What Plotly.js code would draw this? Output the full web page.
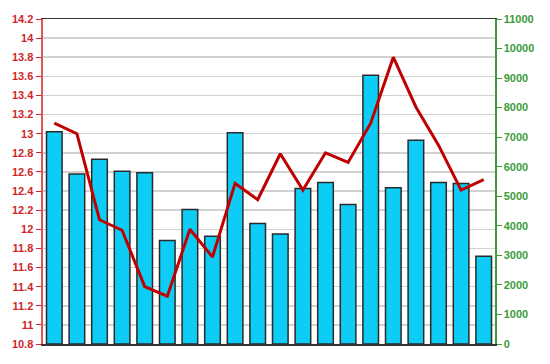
<!DOCTYPE html>
<html><head><meta charset="utf-8">
<script src="https://cdn.plot.ly/plotly-3.0.1.min.js"></script>
<style>html,body{margin:0;padding:0;background:#fff}#c{width:550px;height:364px}</style>
</head><body><div id="c"></div>
<script>
const categories = [1,2,3,4,5,6,7,8,9,10,11,12,13,14,15,16,17,18,19,20];
const barValues = [7180,5750,6250,5850,5800,3500,4550,3650,7150,4080,3720,5260,5470,4720,9100,5290,6900,5470,5430,2970];
const lineValues = [13.11,13.0,12.10,11.99,11.40,11.30,12.0,11.71,12.48,12.31,12.79,12.41,12.80,12.70,13.11,13.80,13.28,12.88,12.41,12.52];
const leftTicks = [10.8,11,11.2,11.4,11.6,11.8,12,12.2,12.4,12.6,12.8,13,13.2,13.4,13.6,13.8,14,14.2];
const rightTicks = [0,1000,2000,3000,4000,5000,6000,7000,8000,9000,10000,11000];

const red = '#d0262a', green = '#3c9c3c';
const traces = [
  {type:'bar', x:categories, y:barValues, yaxis:'y',
   marker:{color:'#0dcdf7', line:{color:'#2a2a2a', width:1.5}}, hoverinfo:'none'},
  {type:'scatter', mode:'lines', x:categories, y:lineValues, yaxis:'y2',
   line:{color:'#c00000', width:3}, hoverinfo:'none'}
];
const layout = {
  width:550, height:364, showlegend:false,
  margin:{l:43, r:55, t:19, b:20},
  paper_bgcolor:'#fff', plot_bgcolor:'#fff',
  bargap:0.31,
  font:{family:'Liberation Sans, Arial, sans-serif'},
  xaxis:{range:[0.5,20.5], showticklabels:false, ticks:'', showgrid:false, zeroline:false,
         showline:true, mirror:true, linecolor:'#333', linewidth:1.5},
  yaxis2:{range:[10.8,14.2], tickvals:leftTicks, ticktext:leftTicks.map(v=>String(v)),
         overlaying:'y', side:'left',
         showgrid:true, gridcolor:'#d2d2d2', gridwidth:1.5, zeroline:false,
         showline:true, linecolor:'#e05555', linewidth:2.5, ticks:'outside', ticklen:5, tickcolor:red,
         tickfont:{color:red, size:11, weight:'bold'}},
  yaxis:{range:[0,11000], tickvals:rightTicks, ticktext:rightTicks.map(v=>String(v)), side:'right',
          showgrid:false, zeroline:false, showline:true, linecolor:green, linewidth:1.5,
          ticks:'outside', ticklen:5, tickcolor:green,
          tickfont:{color:green, size:11, weight:'bold'}}
};
Plotly.newPlot('c', traces, layout, {staticPlot:true});
</script></body></html>
